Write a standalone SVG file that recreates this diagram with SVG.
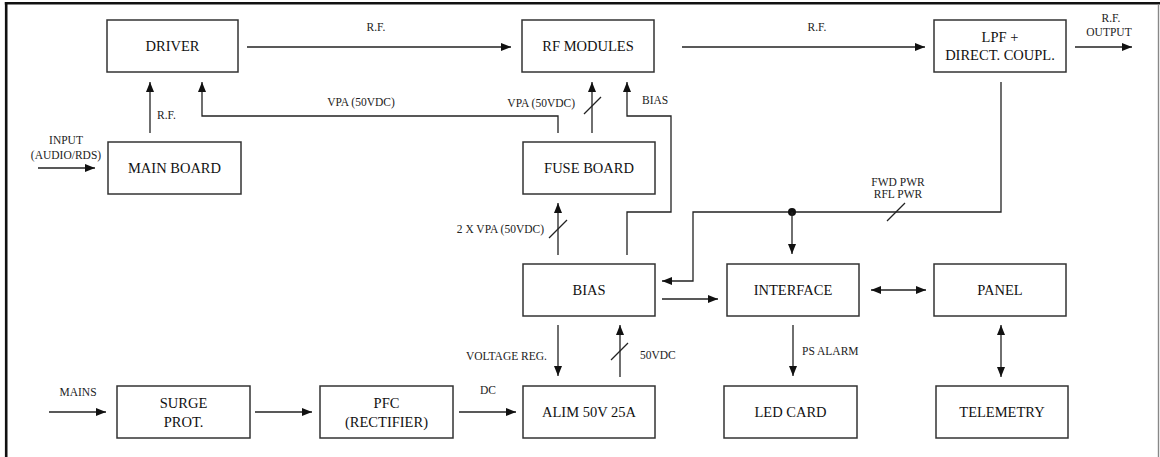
<svg xmlns="http://www.w3.org/2000/svg" width="1160" height="457" viewBox="0 0 1160 457">
<style>
.box{fill:#fff;stroke:#333;stroke-width:1.5}
.bt{font-family:"Liberation Serif","Times New Roman",serif;font-size:14.5px;fill:#111;text-anchor:middle}
.lt{font-family:"Liberation Serif","Times New Roman",serif;font-size:11.5px;fill:#222}
.ln{fill:none;stroke:#222;stroke-width:1.3}
.ar{fill:none;stroke:#222;stroke-width:1.3;marker-end:url(#ah)}
.da{fill:none;stroke:#222;stroke-width:1.3;marker-end:url(#ah);marker-start:url(#ahs)}
</style>
<defs>
<marker id="ah" viewBox="0 0 10 8" refX="10" refY="4" markerWidth="10" markerHeight="8" markerUnits="userSpaceOnUse" orient="auto"><path d="M0,0 L10,4 L0,8 Z" fill="#111"/></marker>
<marker id="ahs" viewBox="0 0 10 8" refX="0" refY="4" markerWidth="10" markerHeight="8" markerUnits="userSpaceOnUse" orient="auto"><path d="M10,0 L0,4 L10,8 Z" fill="#111"/></marker>
</defs>
<rect x="0" y="0" width="1160" height="457" fill="#fff"/>
<g id="frame">
<line x1="4.8" y1="3.2" x2="1160" y2="3.2" stroke="#111" stroke-width="2.6"/>
<line x1="6.2" y1="2" x2="6.2" y2="457" stroke="#111" stroke-width="2.6"/>
<line x1="1158.5" y1="4" x2="1158.5" y2="457" stroke="#888" stroke-width="1.4"/>
</g>
<g id="connectors">
<line class="ar" x1="247" y1="47" x2="511" y2="47"/>
<line class="ar" x1="682" y1="47" x2="925" y2="47"/>
<line class="ar" x1="1075" y1="47" x2="1132" y2="47"/>
<line class="ar" x1="150" y1="133" x2="150" y2="82"/>
<line class="ar" x1="38" y1="168" x2="95" y2="168"/>
<polyline class="ar" points="558,133 558,116 202,116 202,82"/>
<line class="ar" x1="592" y1="133" x2="592" y2="82"/>
<line class="ln" x1="584" y1="114" x2="601" y2="97"/>
<polyline class="ar" points="627,255 627,212 671,212 671,116 627,116 627,82"/>
<line class="ar" x1="558" y1="255" x2="558" y2="203"/>
<line class="ln" x1="549" y1="238" x2="567" y2="220"/>
<polyline class="ar" points="1001,82 1001,212 693,212 693,281 662,281"/>
<circle cx="792" cy="212" r="4" fill="#111"/>
<line class="ar" x1="792" y1="212" x2="792" y2="254"/>
<line class="ln" x1="887" y1="221" x2="905" y2="203"/>
<line class="ar" x1="662" y1="299" x2="718" y2="299"/>
<line class="da" x1="871" y1="290" x2="926" y2="290"/>
<line class="da" x1="1001" y1="325" x2="1001" y2="377"/>
<line class="ar" x1="793" y1="325" x2="793" y2="376"/>
<line class="ar" x1="558" y1="325" x2="558" y2="376"/>
<line class="ar" x1="620" y1="377" x2="620" y2="325"/>
<line class="ln" x1="611" y1="360" x2="628" y2="343"/>
<line class="ar" x1="49" y1="412" x2="106" y2="412"/>
<line class="ar" x1="255" y1="412" x2="312" y2="412"/>
<line class="ar" x1="459" y1="412" x2="516" y2="412"/>
<text class="lt" x="376" y="31" text-anchor="middle">R.F.</text>
<text class="lt" x="817" y="31" text-anchor="middle">R.F.</text>
<text class="lt" x="1111" y="22" text-anchor="middle">R.F.</text>
<text class="lt" x="1109" y="36" text-anchor="middle">OUTPUT</text>
<text class="lt" x="157" y="119">R.F.</text>
<text class="lt" x="66" y="144" text-anchor="middle">INPUT</text>
<text class="lt" x="66" y="159" text-anchor="middle">(AUDIO/RDS)</text>
<text class="lt" x="361" y="106" text-anchor="middle">VPA (50VDC)</text>
<text class="lt" x="575" y="107" text-anchor="end">VPA (50VDC)</text>
<text class="lt" x="642" y="104">BIAS</text>
<text class="lt" x="544" y="233" text-anchor="end">2 X VPA (50VDC)</text>
<text class="lt" x="898" y="186" text-anchor="middle">FWD PWR</text>
<text class="lt" x="898" y="198" text-anchor="middle">RFL PWR</text>
<text class="lt" x="802" y="355">PS ALARM</text>
<text class="lt" x="547" y="360" text-anchor="end">VOLTAGE REG.</text>
<text class="lt" x="640" y="359">50VDC</text>
<text class="lt" x="78" y="396" text-anchor="middle">MAINS</text>
<text class="lt" x="488" y="394" text-anchor="middle">DC</text>
</g>
<g id="driver"><rect class="box" x="107" y="20" width="131" height="52"/><text class="bt" x="172.5" y="51">DRIVER</text></g>
<g id="main-board"><rect class="box" x="108" y="142" width="133" height="52"/><text class="bt" x="174.5" y="173">MAIN BOARD</text></g>
<g id="rf-modules"><rect class="box" x="522" y="20" width="132" height="52"/><text class="bt" x="588" y="51">RF MODULES</text></g>
<g id="fuse-board"><rect class="box" x="523" y="142" width="132" height="52"/><text class="bt" x="589" y="173">FUSE BOARD</text></g>
<g id="lpf"><rect class="box" x="934" y="20" width="132" height="52"/><text class="bt" x="1000" y="42">LPF +</text><text class="bt" x="1000" y="60">DIRECT. COUPL.</text></g>
<g id="bias"><rect class="box" x="523" y="264" width="132" height="52"/><text class="bt" x="589" y="295">BIAS</text></g>
<g id="interface"><rect class="box" x="727" y="264" width="132" height="52"/><text class="bt" x="793" y="295">INTERFACE</text></g>
<g id="panel"><rect class="box" x="934" y="264" width="132" height="52"/><text class="bt" x="1000" y="295">PANEL</text></g>
<g id="surge-prot"><rect class="box" x="117" y="386" width="133" height="52"/><text class="bt" x="183.5" y="408">SURGE</text><text class="bt" x="183.5" y="427">PROT.</text></g>
<g id="pfc"><rect class="box" x="320" y="386" width="133" height="52"/><text class="bt" x="386.5" y="408">PFC</text><text class="bt" x="386.5" y="427">(RECTIFIER)</text></g>
<g id="alim"><rect class="box" x="523" y="386" width="132" height="52"/><text class="bt" x="589" y="417">ALIM 50V 25A</text></g>
<g id="led-card"><rect class="box" x="724" y="386" width="133" height="52"/><text class="bt" x="790.5" y="417">LED CARD</text></g>
<g id="telemetry"><rect class="box" x="936" y="386" width="132" height="52"/><text class="bt" x="1002" y="417">TELEMETRY</text></g>
</svg>
